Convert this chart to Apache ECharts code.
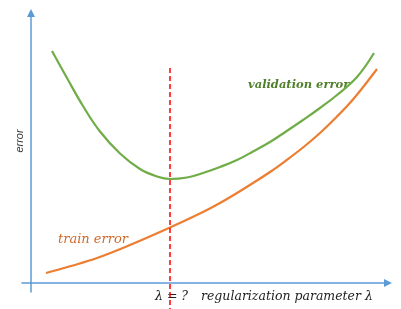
<!DOCTYPE html>
<html>
<head>
<meta charset="utf-8">
<script src="https://cdn.jsdelivr.net/npm/echarts@6/dist/echarts.min.js"></script>
<style>
  html, body { margin: 0; padding: 0; background: #fff; }
  #chart { width: 401px; height: 309px; }
</style>
</head>
<body>
<div id="chart"></div>
<script>
// values (x = lambda, y = error, arbitrary units)
var validationX = [21, 36, 52, 69, 89, 109, 126, 139, 156, 172, 189, 206, 222, 239, 255, 272, 289, 306, 326, 343];
var validationY = [232, 205, 177, 151.5, 129.5, 114, 106.5, 104, 105.5, 110, 116, 123, 131.5, 141, 151.5, 163, 175, 188, 206, 230];
var trainX = [15, 40, 66, 99, 139, 172, 189, 206, 222, 239, 255, 272, 289, 306, 318, 329, 346];
var trainY = [10, 17, 25, 38, 55.5, 71, 80, 90, 100, 111, 122.5, 135.5, 150, 166.5, 179, 192, 214];
var lambdaBest = 139;
var lambdaLineY = [215, -26];

var zip = function (xs, ys) {
    return xs.map(function (x, i) { return [x, ys[i]]; });
};

var myChart = echarts.init(document.getElementById('chart'));

var axisColor = '#5B9BD5';

var option = {
    animation: false,
    grid: { left: 22, right: 13, top: 13, bottom: 17 },
    xAxis: {
        type: 'value',
        min: -9,
        max: 357,
        splitLine: { show: false },
        axisTick: { show: false },
        axisLabel: { show: false },
        axisLine: {
            onZero: true,
            symbol: ['none', 'triangle'],
            symbolSize: [8, 8],
            lineStyle: { color: axisColor, width: 1.5 }
        }
    },
    yAxis: {
        type: 'value',
        min: -9,
        max: 270,
        splitLine: { show: false },
        axisTick: { show: false },
        axisLabel: { show: false },
        axisLine: {
            onZero: true,
            symbol: ['none', 'triangle'],
            symbolSize: [8, 8],
            lineStyle: { color: axisColor, width: 1.5 }
        }
    },
    series: [
        {
            name: 'validation error',
            type: 'line',
            smooth: 0.4,
            showSymbol: false,
            data: zip(validationX, validationY),
            lineStyle: { color: '#70AD47', width: 2.2 }
        },
        {
            name: 'train error',
            type: 'line',
            smooth: 0.4,
            showSymbol: false,
            data: zip(trainX, trainY),
            lineStyle: { color: '#ED7D31', width: 2.2 }
        },
        {
            name: 'lambda',
            type: 'line',
            clip: false,
            showSymbol: false,
            data: zip([lambdaBest, lambdaBest], lambdaLineY),
            lineStyle: { color: '#FF0000', width: 1.5, type: [5, 3] }
        }
    ],
    graphic: [
        {
            type: 'text',
            left: 248, top: 79,
            style: {
                text: 'validation error',
                font: 'italic bold 11.5px "DejaVu Serif"',
                fill: '#4F7F2A'
            }
        },
        {
            type: 'text',
            left: 58, top: 233,
            style: {
                text: 'train error',
                font: 'italic 13px "DejaVu Serif"',
                fill: '#D0692A'
            }
        },
        {
            type: 'text',
            left: 155, top: 290,
            style: {
                text: 'λ = ?',
                font: 'italic 12.5px "DejaVu Serif"',
                fill: '#222'
            }
        },
        {
            type: 'text',
            left: 201, top: 290,
            style: {
                text: 'regularization parameter λ',
                font: 'italic 12.5px "DejaVu Serif"',
                fill: '#222'
            }
        },
        {
            type: 'text',
            x: 20, y: 141,
            rotation: Math.PI / 2,
            style: {
                text: 'error',
                font: 'italic 11px "Liberation Sans"',
                fill: '#333',
                align: 'center',
                verticalAlign: 'middle'
            }
        }
    ]
};

myChart.setOption(option);
</script>
</body>
</html>
